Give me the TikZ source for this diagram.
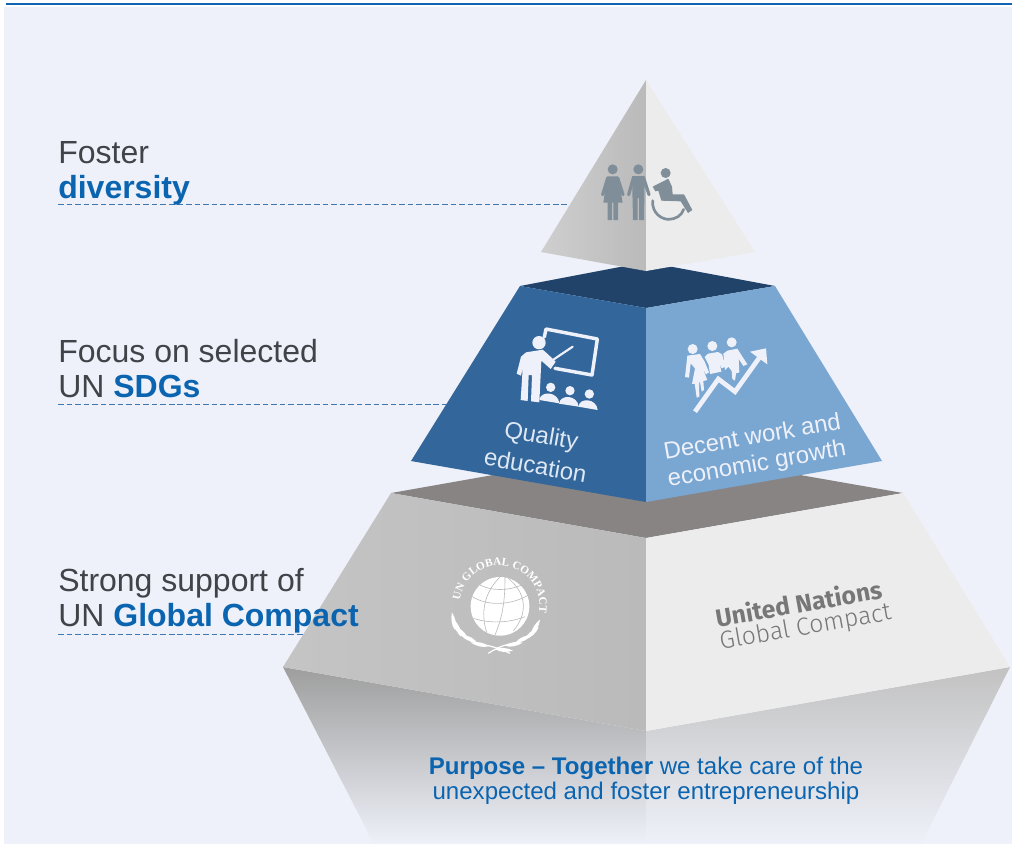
\documentclass[tikz,border=0pt]{standalone}
\usepackage{fontspec}
\setmainfont{Liberation Sans}
\newfontfamily\unfont{Fira Sans}
\newfontfamily\unlight{Fira Sans Light}
\newfontfamily\logofont{Liberation Serif}
\usetikzlibrary{decorations.text}
\definecolor{bgc}{HTML}{EEF1F9}
\definecolor{linec}{HTML}{0F65B3}
\definecolor{titlec}{HTML}{404348}
\definecolor{boldc}{HTML}{0B64B0}
\definecolor{dashc}{HTML}{3E78B2}
\definecolor{iconc}{HTML}{7F8E98}
\definecolor{midl}{HTML}{33669A}
\definecolor{midr}{HTML}{7AA6D2}
\definecolor{midt}{HTML}{21436A}
\definecolor{lowt}{HTML}{888484}
\definecolor{faceg}{HTML}{ECECEC}
\definecolor{faced}{HTML}{BABABA}
\definecolor{labelc}{HTML}{DDE8F4}
\definecolor{unc}{HTML}{777777}
\tikzset{
  lab/.style={anchor=base west,inner sep=0pt,text=titlec,font=\fontsize{24}{24}\selectfont},
  leaderline/.style={draw=dashc,dash pattern=on 4.2pt off 2.2pt,line width=.7pt},
  facelab/.style={inner sep=0pt,text=labelc,font=\fontsize{17.9}{18}\selectfont},
  unlab/.style={inner sep=0pt,text=unc},
  purp/.style={inner sep=0pt,anchor=base,text=boldc,font=\fontsize{18.05}{18}\selectfont},
  icon/.style={fill=bgc,draw=none},
  iconline/.style={draw=bgc,line cap=round,line join=round},
  grayicon/.style={fill=iconc,draw=none},
  graystroke/.style={draw=iconc,line cap=round,line join=round},
  globeline/.style={draw=faced,line width=.45pt},
}
\newcommand{\wleaf}[3]{\fill[white,shift={(#1,#2)},rotate=#3,x=.25pt,y=.25pt] (0,0) .. controls (14,-9) and (36,-8) .. (54,0) .. controls (36,7) and (14,8) .. (0,0) -- cycle;}
\begin{document}
\begin{tikzpicture}[x=.75pt,y=-.75pt]
\useasboundingbox (0,0) rectangle (1012,844);
\fill[white] (0,0) rectangle (1012,844);
\fill[bgc] (4,7) rectangle (1012,844);
\fill[linec] (6,3) rectangle (1012,5.4);

% leader lines
\coordinate (l1a) at (58,204.5); \coordinate (l1b) at (568,204.5);
\coordinate (l2a) at (58,404.5); \coordinate (l2b) at (447,404.5);
\coordinate (l3a) at (58,634.5); \coordinate (l3b) at (305,634.5);
\draw[leaderline] (l1a) -- (l1b);
\draw[leaderline] (l2a) -- (l2b);
\draw[leaderline] (l3a) -- (l3b);

% reflection
\shade[top color=black!38!white,middle color=black!20!bgc,bottom color=bgc]
  (283,667) -- (646,731) -- (646,844) -- (374,844) -- cycle;
\shade[top color=black!24!white,middle color=black!10!bgc,bottom color=bgc]
  (1010,667) -- (646,731) -- (646,844) -- (921,844) -- cycle;

% lower tier
\fill[lowt] (391,493) -- (646,448) -- (903,493) -- (646,538) -- cycle;
\shade[left color=faced!85!white,middle color=faced,right color=faced] (391,493) -- (646,538) -- (646,731) -- (283,667) -- cycle;
\fill[faceg] (903,493) -- (646,538) -- (646,731) -- (1010,667) -- cycle;

% middle tier
\fill[midt] (520,286) -- (646,262) -- (775,286) -- (646,308) -- cycle;
\fill[midl] (520,286) -- (646,308) -- (646,502) -- (411,461) -- cycle;
\fill[midr] (775,286) -- (646,308) -- (646,502) -- (882,461) -- cycle;

% top tier
\shade[left color=faced!70!white,middle color=faced,right color=faced] (646,80) -- (646,271) -- (541,252) -- cycle;
\fill[faceg] (646,80) -- (646,271) -- (755,252) -- cycle;

% diversity icon
\begin{scope}[shift={(540,70)},x=.25pt,y=-.25pt]
  \fill[grayicon] (218,298) circle (15);
  \fill[grayicon] (295,298) circle (15);
  \fill[grayicon] (377,309) circle (15);
  \fill[grayicon] (202,319) -- (234,319) -- (248,398) -- (234,398) -- (234,450) -- (220,450) -- (220,398) -- (216,398) -- (216,450) -- (203,450) -- (203,398) -- (190,398) -- cycle;
  \draw[graystroke,line width=2.4pt] (203,324) -- (188,374);
  \draw[graystroke,line width=2.4pt] (233,324) -- (249,374);
  \fill[grayicon] (276,318) -- (314,318) -- (312,450) -- (297,450) -- (297,384) -- (293,384) -- (293,450) -- (279,450) -- cycle;
  \draw[graystroke,line width=2.4pt] (280,324) -- (266,374);
  \draw[graystroke,line width=2.4pt] (311,324) -- (327,374);
  \fill[grayicon] (338,350) -- (385,326) -- (396,350) -- (398,373) -- (432,373) -- (457,420) -- (444,429) -- (422,394) -- (364,392) -- (355,362) -- (346,364) -- cycle;
  \draw[graystroke,line width=2pt] (338,392) .. controls (335,432) and (368,448) .. (385,448) .. controls (405,448) and (425,438) .. (431,418);
\end{scope}

% teacher icon
\begin{scope}[shift={(510,325)},x=.25pt,y=-.25pt]
  \fill[icon] (87,53) circle (20);
  \draw[iconline,line width=2.6pt] (103,36) -- (108,12) -- (262,42) -- (246,150) -- (135,130);
  \draw[iconline,line width=1.6pt] (118,112) -- (188,65);
  \fill[icon] (48,82) -- (98,74) -- (112,86) -- (137,110) -- (122,132) -- (94,107) -- (88,232) -- (63,229) -- (66,150) -- (56,150) -- (53,228) -- (32,225) -- (38,130) -- (33,152) -- (20,146) -- (33,95) -- cycle;
  \fill[icon] (122,187) circle (14);
  \fill[icon] (180,197) circle (14);
  \fill[icon] (238,207) circle (14);
  \fill[icon] (88,225) .. controls (92,195) and (145,200) .. (148,235) -- cycle;
  \fill[icon] (147,236) .. controls (151,206) and (203,210) .. (206,245) -- cycle;
  \fill[icon] (205,245) .. controls (209,216) and (260,220) .. (263,255) -- cycle;
\end{scope}

% work and growth icon
\begin{scope}[shift={(680,335)},x=.25pt,y=-.25pt]
  \fill[icon] (38,42) circle (15);
  \fill[icon] (97,33) circle (15);
  \fill[icon] (155,22) circle (15);
  \fill[icon] (22,62) -- (60,57) -- (74,80) -- (87,112) -- (78,118) -- (68,100) -- (82,135) -- (70,138) -- (72,165) -- (65,170) -- (60,142) -- (57,142) -- (58,185) -- (50,188) -- (44,146) -- (36,147) -- (45,100) -- (32,85) -- (27,128) -- (15,126) -- cycle;
  \fill[icon] (74,66) -- (84,56) -- (114,51) -- (126,58) -- (137,95) -- (125,100) -- (119,85) -- (124,110) -- (90,117) -- (86,90) -- cycle;
  \fill[icon] (130,56) -- (142,47) -- (172,41) -- (202,88) -- (190,93) -- (176,72) -- (178,112) -- (168,115) -- (165,137) -- (157,132) -- (155,108) -- (145,95) -- (135,105) -- cycle;
  \draw[iconline,line width=3.5pt,line cap=butt,line join=miter] (45,230) -- (115,132) -- (165,170) -- (238,68);
  \fill[icon] (210,50) -- (258,40) -- (262,88) -- cycle;
\end{scope}

% UN emblem
\begin{scope}[shift={(445,555)},x=.25pt,y=-.25pt]
  \fill[white] (165,154) circle (88);
  \draw[globeline] (105,90) .. controls (140,108) and (190,108) .. (230,90);
  \draw[globeline] (82,125) .. controls (130,155) and (200,150) .. (250,120);
  \draw[globeline] (85,190) .. controls (130,205) and (190,205) .. (240,185);
  \draw[globeline] (165,66) .. controls (120,110) and (105,170) .. (125,232);
  \draw[globeline] (180,66) .. controls (180,130) and (175,180) .. (150,240);
  \draw[globeline] (190,70) .. controls (250,120) and (245,180) .. (205,228);
  \draw[white,line width=.9pt] (25,195) .. controls (25,240) and (80,262) .. (130,272) .. controls (155,278) and (175,285) .. (195,295);
  \draw[white,line width=.9pt] (275,215) .. controls (262,245) and (225,262) .. (190,268) .. controls (170,272) and (150,282) .. (130,295);
  \wleaf{30}{225}{100}
  \wleaf{48}{245}{112}
  \wleaf{70}{257}{130}
  \wleaf{98}{266}{150}
  \wleaf{130}{274}{168}
  \wleaf{258}{240}{60}
  \wleaf{240}{252}{40}
  \wleaf{212}{262}{25}
  \wleaf{180}{272}{10}
  \wleaf{150}{282}{-5}
\end{scope}
\begin{scope}[shift={(499.5,605.5)},x=.75pt,y=.75pt]
  \path[decorate,decoration={text along path,text align=center,text color=white,
    text={|\fontsize{8.4}{9}\logofont\bfseries|UN GLOBAL COMPACT}}]
    (170:40) arc (170:-8:40);
\end{scope}

% labels
\node[lab] (t1a) at (58,163.5) {Foster};
\node[lab] (t1b) at (58,198) {\textcolor{boldc}{\textbf{diversity}}};
\node[lab] (t2a) at (58,362) {Focus on selected};
\node[lab] (t2b) at (58,397) {UN \textcolor{boldc}{\textbf{SDGs}}};
\node[lab] (t3a) at (58,591) {Strong support of};
\node[lab] (t3b) at (58,626) {UN \textcolor{boldc}{\textbf{Global Compact}}};

\node[facelab,rotate=-10] (q1) at (541,437.5) {Quality};
\node[facelab,rotate=-10] (q2) at (535.5,465.5) {education};
\node[facelab,rotate=10,text=bgc] (d1) at (752,436) {Decent work and};
\node[facelab,rotate=10,text=bgc] (d2) at (757,465) {economic growth};

\node[unlab,rotate=10,font=\unfont\bfseries\fontsize{18.6}{18}\selectfont] (u1) at (798.5,603) {United Nations};
\node[unlab,rotate=10,font=\unlight\fontsize{18.6}{18}\selectfont] (u2) at (805.5,628) {Global Compact};

\node[purp] (p1) at (646,774) {\textbf{Purpose – Together} we take care of the};
\node[purp] (p2) at (646,799) {unexpected and foster entrepreneurship};
\end{tikzpicture}
\end{document}
